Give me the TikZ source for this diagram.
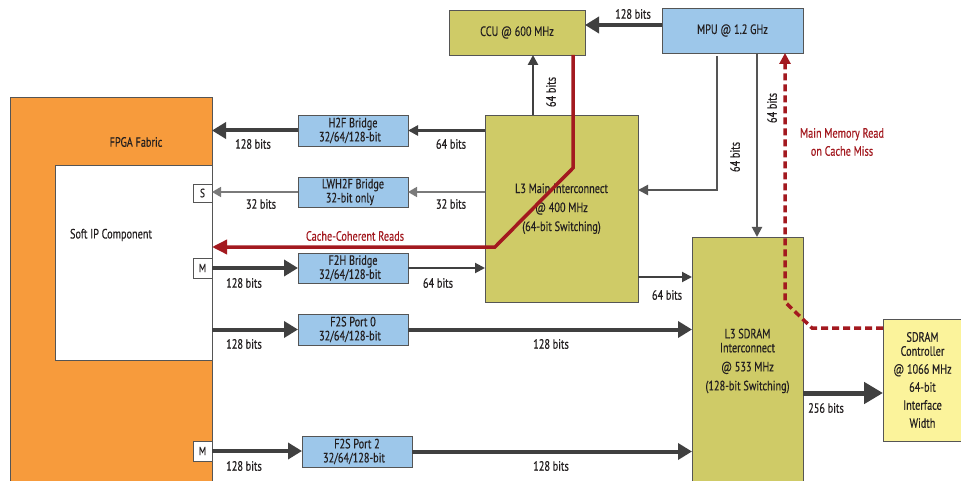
\documentclass[tikz,border=0pt]{standalone}
\usepackage{fontspec}
\setmainfont{PT Sans}[FakeStretch=0.76,FakeBold=0.35]
\usetikzlibrary{arrows.meta,calc}
\definecolor{cOlive}{HTML}{CFCB67}
\definecolor{cBlue}{HTML}{9DC7EA}
\definecolor{cOrange}{HTML}{F79B3C}
\definecolor{cLight}{HTML}{FBF39B}
\definecolor{cBorder}{HTML}{555555}
\definecolor{cArr}{HTML}{404040}
\definecolor{cThin}{HTML}{7A7A7A}
\definecolor{cRed}{HTML}{A3191F}
\definecolor{cText}{HTML}{231F20}
\tikzset{
  every node/.style={font=\fontsize{13.5}{14}\selectfont, text=cText},
  box/.style={draw=cBorder, line width=0.8pt, inner sep=0pt, outer sep=0pt, align=center},
  olivebox/.style={box, fill=cOlive},
  bluebox/.style={box, fill=cBlue},
  port/.style={box, fill=white, font=\fontsize{12}{12}\selectfont},
  heavyarr/.style={draw=cArr, line width=4pt, -{Triangle[length=14pt,width=16pt]}},
  medarr/.style={draw=cArr, line width=2pt, -{Triangle[length=10pt,width=10pt]}},
  thinarr/.style={draw=cThin, line width=1.6pt, -{Triangle[length=9pt,width=10pt]}},
  redarr/.style={draw=cRed, line width=3.5pt, -{Triangle[length=15pt,width=14pt]}},
  reddash/.style={draw=cRed, line width=3.5pt, dash pattern=on 7pt off 4pt, -{Triangle[length=11pt,width=11pt]}},
  lbl/.style={inner sep=1pt},
  redlbl/.style={inner sep=1pt, text=cRed},
}
\begin{document}
\begin{tikzpicture}[x=1pt,y=-1pt]
\useasboundingbox (0,0) rectangle (961,481);
\fill[white] (0,0) rectangle (961,481);
% FPGA side
\node[box, fill=cOrange, minimum width=202, minimum height=394] (fpga) at (111,294) {};
\node[box, fill=white, minimum width=157, minimum height=195] (softip) at (133.5,262.5) {};
\node[lbl] (fpgalbl) at (136,142) {FPGA Fabric};
\node[lbl] (softlbl) at (111,235) {Soft IP Component};
\node[port, minimum width=19, minimum height=18] (sport) at (202.5,193) {S};
\node[port, minimum width=19, minimum height=20] (mA) at (202.5,268) {M};
\node[port, minimum width=19, minimum height=20] (mB) at (202.5,451) {M};
% top blocks
\node[olivebox, minimum width=136, minimum height=45] (ccu) at (517,32.5) {CCU @ 600 MHz};
\node[bluebox, minimum width=141, minimum height=45] (mpu) at (732.5,30.5) {MPU @ 1.2 GHz};
% bridges
\node[bluebox, minimum width=110, minimum height=31] (h2f) at (353,130.5) {H2F Bridge\\32/64/128-bit\hspace*{6pt}};
\node[bluebox, minimum width=110, minimum height=30] (lwh2f) at (353,192) {LWH2F Bridge\\32-bit only\hspace*{6pt}};
\node[bluebox, minimum width=110, minimum height=30] (f2h) at (353,268) {F2H Bridge\\32/64/128-bit\hspace*{6pt}};
\node[bluebox, minimum width=110, minimum height=31] (f2s0) at (353,329.5) {F2S Port 0\\32/64/128-bit\hspace*{6pt}};
\node[bluebox, minimum width=110, minimum height=31] (f2s2) at (357,451.5) {F2S Port 2\\32/64/128-bit\hspace*{6pt}};
% interconnects
\node[olivebox, minimum width=153, minimum height=187] (l3main) at (561.5,208.5)
  {\rule{0pt}{10pt}L3 Main Interconnect\\[5pt]@ 400 MHz\\[5pt](64-bit Switching)};
\node[olivebox, minimum width=111, minimum height=248] (l3sdram) at (747.5,361)
  {L3 SDRAM\\Interconnect\\[5pt]@ 533 MHz\\[5pt](128-bit Switching)};
\node[box, fill=cLight, minimum width=79, minimum height=122] (ctrl) at (922.5,380)
  {SDRAM\\Controller\\[4pt]@ 1066 MHz\\[4pt]64-bit\\[4pt]Interface\\[4pt]Width};
% helper coordinates
\coordinate (yTop) at (0,25);
\coordinate (xC) at (533,0);
\coordinate (xM) at (717,0);
\coordinate (mTurn) at (717,190);
\coordinate (xS) at (757,0);
\coordinate (y277) at (0,277);
\coordinate (y393) at (0,393);
\coordinate (r1) at (573,168);
\coordinate (r2) at (495,247);
\coordinate (d1) at (812,328);
\coordinate (d2) at (785,302);
% connectors
\draw[heavyarr] (mpu.west |- yTop) -- (ccu.east |- yTop);
\node[lbl] (l128a) at (633,14) {128 bits};
\draw[medarr, line width=2.5pt] (l3main.north -| xC) -- (ccu.south -| xC);
\node[lbl, rotate=90] (l64a) at (551,92) {64 bits};
\draw[medarr, line width=2.5pt] (l3main.west |- h2f) -- (h2f.east);
\node[lbl] (l64b) at (451,144) {64 bits};
\draw[heavyarr] (h2f.west) -- (h2f.west -| fpga.east);
\node[lbl] (l128b) at (253,144) {128 bits};
\draw[thinarr] (l3main.west |- lwh2f) -- (lwh2f.east);
\node[lbl] (l32a) at (451,204) {32 bits};
\draw[thinarr] (lwh2f.west) -- (lwh2f.west -| sport.east);
\node[lbl] (l32b) at (261,204) {32 bits};
\draw[heavyarr] (mA.east) -- (mA.east -| f2h.west);
\node[lbl] (l128c) at (244,283) {128 bits};
\draw[medarr] (f2h.east) -- (f2h.east -| l3main.west);
\node[lbl] (l64c) at (438,283) {64 bits};
\draw[heavyarr] (f2s0.west -| softip.east) -- (f2s0.west);
\node[lbl] (l128d) at (244,344) {128 bits};
\draw[heavyarr] (f2s0.east) -- (f2s0.east -| l3sdram.west);
\node[lbl] (l128e) at (551,344) {128 bits};
\draw[heavyarr] (mB.east) -- (mB.east -| f2s2.west);
\node[lbl] (l128f) at (244,466) {128 bits};
\draw[heavyarr] (f2s2.east) -- (f2s2.east -| l3sdram.west);
\node[lbl] (l128g) at (551,466) {128 bits};
\draw[medarr] (l3main.east |- y277) -- (l3sdram.west |- y277);
\node[lbl] (l64d) at (667,295) {64 bits};
\draw[medarr, draw=cBorder] ($(mpu.south -| xM)+(0,3)$) -- (mTurn) -- (mTurn -| l3main.east);
\node[lbl, rotate=90] (l64e) at (735,157) {64 bits};
\draw[medarr, draw=cBorder] (mpu.south -| xS) -- (l3sdram.north -| xS);
\node[lbl, rotate=90] (l64f) at (772,108) {64 bits};
\draw[draw=cArr, line width=5pt, -{Triangle[length=19pt,width=21pt]}] (l3sdram.east |- y393) -- (ctrl.west |- y393);
\node[lbl] (l256) at (826,408) {256 bits};
% red paths
\draw[redarr] (ccu.south -| r1) -- (r1) -- (r2) -- (r2 -| fpga.east);
\node[redlbl] (crd) at (355,236) {Cache-Coherent Reads};
\draw[reddash] (ctrl.west |- d1) -- (d1) -- (d2) -- (d2 |- mpu.south);
\node[redlbl, align=center] (mmr) at (842,142) {Main Memory Read\\[4pt]on Cache Miss};
\end{tikzpicture}
\end{document}
